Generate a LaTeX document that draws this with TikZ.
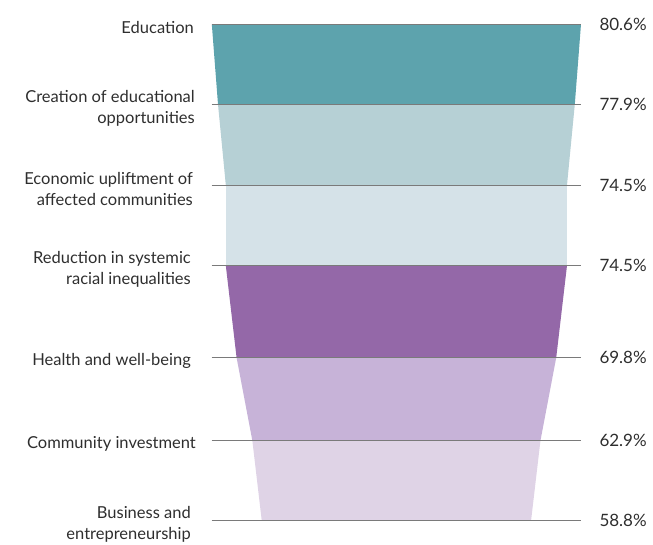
\documentclass[tikz,border=0pt]{standalone}
\usepackage{fontspec}
\setmainfont{Lato}
\definecolor{c1}{HTML}{5DA3AD}
\definecolor{c2}{HTML}{B6D0D5}
\definecolor{c3}{HTML}{D5E2E8}
\definecolor{c4}{HTML}{9468A8}
\definecolor{c5}{HTML}{C7B3D8}
\definecolor{c6}{HTML}{DFD3E6}
\definecolor{txt}{HTML}{2E2E2E}
\definecolor{rule}{HTML}{7A7A7A}
\begin{document}
\begin{tikzpicture}[x=1pt,y=-1pt,
  lab/.style={anchor=east,align=right,font=\fontsize{16.5}{21}\selectfont,text=txt,inner sep=0pt},
  pct/.style={anchor=west,font=\fontsize{17}{20}\selectfont,text=txt,inner sep=0pt},
  sep/.style={draw=rule,line width=0.8pt}]
\useasboundingbox (0,0) rectangle (653,545);
\def\cx{396.4}
\def\k{2.29}
% levels
\foreach \n/\yy/\v in {0/24.5/80.6,1/104.5/77.9,2/185/74.5,3/265.5/74.5,4/357.5/69.8,5/440.7/62.9,6/520.7/58.8}{
  \coordinate (L\n) at ({\cx-\k*\v},\yy);
  \coordinate (R\n) at ({\cx+\k*\v},\yy);
  \coordinate (A\n) at (211.7,\yy);
  \coordinate (B\n) at (580.7,\yy);
}
\fill[c1] (L0) -- (R0) -- (R1) -- (L1) -- cycle;
\fill[c2] (L1) -- (R1) -- (R2) -- (L2) -- cycle;
\fill[c3] (L2) -- (R2) -- (R3) -- (L3) -- cycle;
\fill[c4] (L3) -- (R3) -- (R4) -- (L4) -- cycle;
\fill[c5] (L4) -- (R4) -- (R5) -- (L5) -- cycle;
\fill[c6] (L5) -- (R5) -- (R6) -- (L6) -- cycle;
\foreach \n in {0,...,6}{\draw[sep] (A\n) -- (B\n);}
% labels
\node[lab] (t0) at (194,27.5) {Education};
\node[lab] (t1) at (195,108) {Creation of educational\\opportunities};
\node[lab] (t2) at (193,189) {Economic upliftment of\\affected communities};
\node[lab] (t3) at (191,269) {Reduction in systemic\\racial inequalities};
\node[lab] (t4) at (191,361) {Health and well-being};
\node[lab] (t5) at (196,444) {Community investment};
\node[lab] (t6) at (191,524) {Business and\\entrepreneurship};
% percentages
\node[pct] (p0) at (599.3,24.5) {80.6\%};
\node[pct] (p1) at (599.3,104.5) {77.9\%};
\node[pct] (p2) at (599.3,185) {74.5\%};
\node[pct] (p3) at (599.3,265.5) {74.5\%};
\node[pct] (p4) at (599.3,357.5) {69.8\%};
\node[pct] (p5) at (599.3,440.7) {62.9\%};
\node[pct] (p6) at (599.3,520.7) {58.8\%};
\end{tikzpicture}
\end{document}
